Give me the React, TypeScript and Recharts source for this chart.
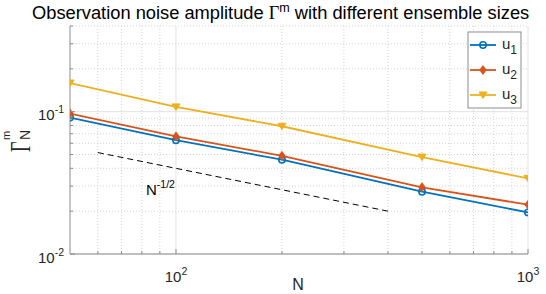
import { CartesianGrid, Line, LineChart, XAxis, YAxis } from "recharts";

// ensemble size N and observation noise amplitude per variable
const ensembleSizes = [50, 100, 200, 500, 1000];
const u1Noise = [0.091, 0.063, 0.046, 0.0274, 0.0196];
const u2Noise = [0.097, 0.067, 0.049, 0.0294, 0.0222];
const u3Noise = [0.159, 0.108, 0.079, 0.048, 0.034];

// N^-1/2 reference slope
const refSizes = [60, 400];
const refValues = [0.0516, 0.02];

const xMajorTicks = [100, 1000];
const xMinorTicks = [60, 70, 80, 90, 200, 300, 400, 500, 600, 700, 800, 900];
const yMajorTicks = [0.01, 0.1];
const yMinorTicks = [0.02, 0.03, 0.04, 0.05, 0.06, 0.07, 0.08, 0.09, 0.2, 0.3, 0.4];

const W = 546;
const H = 294;
const AXIS = "#8c8c8c";
const TEXT = "#262626";
const FONT = "'Liberation Sans', Arial, sans-serif";
const SERIF = "'Liberation Serif', serif";

const series = [
  { key: "u1", sub: "1", color: "#0072BD", marker: "circle" },
  { key: "u2", sub: "2", color: "#D95319", marker: "diamond" },
  { key: "u3", sub: "3", color: "#EDB120", marker: "triangle" },
];

const rows = ensembleSizes.map((n, i) => ({
  n,
  u1: u1Noise[i],
  u2: u2Noise[i],
  u3: u3Noise[i],
}));
const refRows = refSizes.map((n, i) => ({ n, ref: refValues[i] }));

function Marker({ cx, cy, color, marker }: any) {
  if (marker === "circle")
    return <circle cx={cx} cy={cy} r={3.2} fill="none" stroke={color} strokeWidth={1.5} />;
  if (marker === "diamond")
    return (
      <path
        d={`M${cx},${cy - 4}L${cx + 3},${cy}L${cx},${cy + 4}L${cx - 3},${cy}Z`}
        fill={color}
        stroke={color}
        strokeWidth={1.2}
      />
    );
  return (
    <path
      d={`M${cx - 4},${cy - 3}L${cx + 4},${cy - 3}L${cx},${cy + 3.5}Z`}
      fill={color}
      stroke={color}
      strokeWidth={1}
    />
  );
}

const exponent = (v: number) => String(Math.round(Math.log10(v)));

function XTick({ x, y, payload, top }: any) {
  const major = xMajorTicks.includes(payload.value);
  const len = major ? 5 : 3;
  const dir = top ? 1 : -1;
  return (
    <g>
      <line x1={x} x2={x} y1={y} y2={y + dir * len} stroke={AXIS} />
      {major && !top && (
        <text x={x} y={y + 28} textAnchor="middle" fontSize={15} fill={TEXT} fontFamily={FONT}>
          10
          <tspan dy={-7} fontSize={10.5}>
            {exponent(payload.value)}
          </tspan>
        </text>
      )}
    </g>
  );
}

function YTick({ x, y, payload, right }: any) {
  const major = yMajorTicks.includes(payload.value);
  const len = major ? 5 : 3;
  const dir = right ? -1 : 1;
  return (
    <g>
      <line x1={x} x2={x + dir * len} y1={y} y2={y} stroke={AXIS} />
      {major && !right && (
        <text x={x - 6} y={y + 8.5} textAnchor="end" fontSize={15} fill={TEXT} fontFamily={FONT}>
          10
          <tspan dy={-7} fontSize={10.5}>
            {exponent(payload.value)}
          </tspan>
        </text>
      )}
    </g>
  );
}

export default function App() {
  const xTicks = [...xMinorTicks, ...xMajorTicks].sort((a, b) => a - b);
  const yTicks = [...yMinorTicks, ...yMajorTicks].sort((a, b) => a - b);
  return (
    <div style={{ position: "absolute", left: 0, top: 0, width: W, height: H, background: "#fff" }}>
      <LineChart width={W} height={H} data={rows} margin={{ top: 26, right: 18, bottom: 10, left: 30 }}>
        <CartesianGrid
          verticalValues={xMinorTicks}
          horizontalValues={yMinorTicks}
          stroke="#d4d4d4"
          strokeDasharray="1 2"
        />
        <CartesianGrid verticalValues={xMajorTicks} horizontalValues={yMajorTicks} stroke="#e3e3e3" />
        <XAxis
          dataKey="n"
          type="number"
          scale="log"
          domain={[50, 1000]}
          allowDataOverflow
          ticks={xTicks}
          interval={0}
          height={30}
          tickSize={0}
          tickMargin={0}
          tickLine={false}
          axisLine={{ stroke: AXIS }}
          tick={<XTick />}
        />
        <XAxis
          xAxisId="top"
          orientation="top"
          dataKey="n"
          type="number"
          scale="log"
          domain={[50, 1000]}
          allowDataOverflow
          ticks={xTicks}
          interval={0}
          height={0}
          tickSize={0}
          tickMargin={0}
          tickLine={false}
          axisLine={{ stroke: AXIS }}
          tick={<XTick top />}
        />
        <YAxis
          type="number"
          scale="log"
          domain={[0.01, 0.4]}
          allowDataOverflow
          ticks={yTicks}
          interval={0}
          width={40}
          tickSize={0}
          tickMargin={0}
          tickLine={false}
          axisLine={{ stroke: AXIS }}
          tick={<YTick />}
        />
        <YAxis
          yAxisId="right"
          orientation="right"
          type="number"
          scale="log"
          domain={[0.01, 0.4]}
          allowDataOverflow
          ticks={yTicks}
          interval={0}
          width={0}
          tickSize={0}
          tickMargin={0}
          tickLine={false}
          axisLine={{ stroke: AXIS }}
          tick={<YTick right />}
        />
        {series.map((s) => (
          <Line
            key={s.key}
            dataKey={s.key}
            stroke={s.color}
            strokeWidth={1.8}
            isAnimationActive={false}
            dot={(p: any) => <Marker key={`${s.key}-${p.index}`} cx={p.cx} cy={p.cy} color={s.color} marker={s.marker} />}
          />
        ))}
        <Line
          data={refRows}
          dataKey="ref"
          stroke="#000"
          strokeWidth={1}
          strokeDasharray="6 4"
          dot={false}
          isAnimationActive={false}
        />
      </LineChart>
      <svg width={W} height={H} style={{ position: "absolute", left: 0, top: 0, pointerEvents: "none" }} fontFamily={FONT}>
        <text x={32} y={19} fontSize={18.3} fill="#000">
          Observation noise amplitude <tspan fontFamily={SERIF}>Γ</tspan>
          <tspan dy={-7} fontSize={12.5}>m</tspan>
          <tspan dy={7}> with different ensemble sizes</tspan>
        </text>
        <text x={298} y={290} fontSize={16} textAnchor="middle" fill={TEXT}>
          N
        </text>
        <g transform="translate(30,152) rotate(-90)" fill={TEXT}>
          <text x={0} y={0} fontSize={30} fontFamily={SERIF} transform="scale(0.6,1)">
            Γ
          </text>
          <text x={12} y={-20} fontSize={11}>
            m
          </text>
          <text x={12} y={0} fontSize={14}>
            N
          </text>
        </g>
        <text x={146} y={195} fontSize={15} fill="#000">
          N<tspan dy={-7} fontSize={10.5}>-1/2</tspan>
        </text>
        <g>
          <rect x={468} y={32} width={53} height={76} fill="#fff" stroke={AXIS} />
          {series.map((s, i) => {
            const cy = 45 + i * 25;
            return (
              <g key={s.key}>
                <line x1={470} x2={496} y1={cy} y2={cy} stroke={s.color} strokeWidth={1.8} />
                <Marker cx={483} cy={cy} color={s.color} marker={s.marker} />
                <text x={502} y={cy + 4} fontSize={15} fill={TEXT}>
                  u
                  <tspan dy={5} fontSize={12}>
                    {s.sub}
                  </tspan>
                </text>
              </g>
            );
          })}
        </g>
      </svg>
    </div>
  );
}
